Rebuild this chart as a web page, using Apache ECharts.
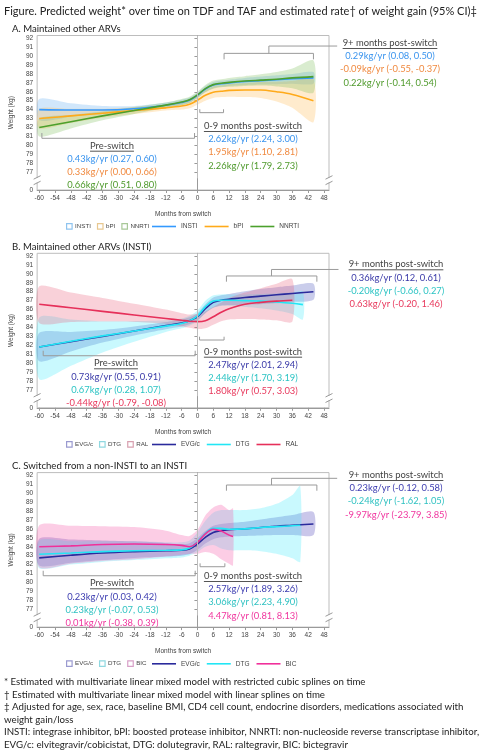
<!DOCTYPE html>
<html><head><meta charset="utf-8">
<script src="https://cdn.jsdelivr.net/npm/echarts@6/dist/echarts.min.js"></script>
<style>html,body{margin:0;padding:0;background:#fff}#c{width:482px;height:754px}</style>
</head><body><div id="c"></div>
<script>
// ---------- tick labels ----------
const xTicks = [-60,-54,-48,-42,-36,-30,-24,-18,-12,-6,0,6,12,18,24,30,36,42,48];
const yTicks = [75,77,78,79,80,81,82,83,84,85,86,87,88,89,90,91,92]; // 75 is shown as "0" (broken axis)

// ---------- Panel A: Maintained other ARVs ----------
const monthsA = [-60,-48,-36,-24,-12,-6,-3,0,3,6,9,12,18,24,30,36,44];
const A_INSTI    = [84.0,83.95,83.95,84.1,84.5,84.8,85.05,85.6,86.3,86.75,86.9,87.0,87.15,87.25,87.35,87.45,87.55];
const A_INSTI_lo = [82.8,83.2,83.5,83.8,84.2,84.5,84.75,85.3,85.95,86.4,86.55,86.65,86.75,86.8,86.85,86.9,86.9];
const A_INSTI_hi = [85.2,84.7,84.4,84.4,84.8,85.1,85.35,85.9,86.65,87.1,87.25,87.35,87.55,87.7,87.85,88.0,88.2];
const A_bPI      = [83.0,83.3,83.6,83.9,84.2,84.4,84.6,85.05,85.6,85.95,86.05,86.15,86.2,86.2,86.0,85.7,85.0];
const A_bPI_lo   = [81.9,82.5,83.1,83.5,83.9,84.0,84.15,84.55,85.0,85.3,85.4,85.45,85.4,85.3,84.9,84.2,82.6];
const A_bPI_hi   = [84.1,84.1,84.1,84.3,84.5,84.8,85.05,85.55,86.2,86.6,86.7,86.85,86.95,87.1,87.1,87.2,87.4];
const A_NNRTI    = [82.0,82.65,83.3,83.9,84.5,84.85,85.1,85.65,86.35,86.8,86.95,87.05,87.2,87.3,87.4,87.55,87.7];
const A_NNRTI_lo = [81.0,81.9,82.8,83.5,84.2,84.5,84.75,85.3,85.95,86.35,86.5,86.55,86.65,86.7,86.6,86.4,85.9];
const A_NNRTI_hi = [83.0,83.4,83.8,84.3,84.8,85.2,85.45,86.0,86.75,87.25,87.4,87.55,87.75,87.95,88.2,88.6,89.5];

// ---------- Panel B: Maintained other ARVs (INSTI) ----------
const monthsB_EVG = [-60,-48,-36,-24,-12,-6,-3,0,3,6,9,12,18,24,30,36,44];
const B_EVG    = [81.8,82.4,83.0,83.6,84.2,84.5,84.75,85.2,86.1,86.8,87.05,87.15,87.35,87.5,87.65,87.8,88.0];
const B_EVG_lo = [80.2,81.3,82.3,83.1,83.8,84.1,84.35,84.8,85.6,86.2,86.45,86.5,86.55,86.6,86.7,86.85,87.1];
const B_EVG_hi = [83.4,83.5,83.7,84.1,84.6,84.9,85.15,85.6,86.6,87.35,87.6,87.75,88.05,88.3,88.5,88.7,88.9];
const monthsB_DTG = [-60,-48,-36,-24,-12,-6,-3,0,3,6,9,12,18,24,30,36,40];
const B_DTG    = [81.8,82.45,83.05,83.6,84.15,84.45,84.75,85.3,86.3,86.95,87.05,87.05,87.0,86.95,86.85,86.7,86.55];
const B_DTG_lo = [78.2,79.7,81.2,82.4,83.5,83.9,84.2,84.7,85.6,86.2,86.4,86.4,86.3,86.15,85.9,85.5,84.9];
const B_DTG_hi = [85.1,84.9,84.7,84.7,84.8,85.0,85.3,85.9,87.0,87.6,87.7,87.7,87.7,87.75,87.8,87.9,88.0];
const monthsB_RAL = [-60,-48,-36,-24,-12,-6,-3,0,3,6,9,12,18,24,30,36];
const B_RAL    = [86.6,86.2,85.8,85.4,85.0,84.8,84.7,84.65,84.75,85.2,85.7,86.1,86.6,86.8,86.95,87.05];
const B_RAL_lo = [84.5,84.6,84.65,84.6,84.4,84.1,83.95,83.8,83.9,84.3,84.7,84.9,84.95,84.9,84.8,84.65];
const B_RAL_hi = [88.6,87.9,87.3,86.65,86.0,85.6,85.45,85.5,85.8,86.3,86.8,87.3,87.9,88.4,88.9,89.4];

// ---------- Panel C: Switched from a non-INSTI to an INSTI ----------
const monthsC_EVG = [-60,-48,-36,-24,-12,-6,-3,0,3,6,9,12,18,24,30,36,44];
const C_EVG    = [82.75,83.05,83.3,83.45,83.55,83.6,83.75,84.3,85.05,85.6,85.8,85.9,86.0,86.15,86.3,86.4,86.55];
const C_EVG_lo = [81.9,82.2,82.5,82.75,82.9,83.0,83.15,83.65,84.35,84.85,85.05,85.15,85.2,85.25,85.3,85.3,85.3];
const C_EVG_hi = [84.9,84.8,84.7,84.6,84.4,84.3,84.4,84.95,85.75,86.35,86.55,86.65,86.8,87.05,87.3,87.55,87.9];
const monthsC_DTG = [-60,-48,-36,-24,-12,-6,-3,0,3,6,9,12,18,24,30,36,39];
const C_DTG    = [83.15,83.3,83.45,83.55,83.6,83.65,83.85,84.55,85.5,86.05,86.05,85.95,86.0,86.15,86.25,86.35,86.4];
const C_DTG_lo = [81.6,82.0,82.3,82.5,82.7,82.8,83.0,83.4,84.0,84.2,83.8,83.6,83.6,83.5,83.2,82.7,82.3];
const C_DTG_hi = [84.7,84.6,84.6,84.6,84.5,84.5,84.7,85.6,86.9,87.8,88.1,88.1,88.1,88.3,88.8,89.8,90.8];
const monthsC_BIC = [-60,-48,-36,-24,-12,-6,-3,0,3,6,9,12,13.5];
const C_BIC    = [84.0,84.1,84.25,84.3,84.25,84.15,84.0,84.5,85.45,85.95,85.75,85.3,85.15];
const C_BIC_lo = [81.7,82.1,82.4,82.6,82.9,83.1,83.2,83.2,83.4,83.2,82.6,82.1,81.9];
const C_BIC_hi = [86.4,86.35,86.3,86.2,85.8,85.3,85.2,85.9,87.5,88.4,88.7,88.1,88.3];

// ---------- text ----------
const figTitle = 'Figure. Predicted weight* over time on TDF and TAF and estimated rate\u2020 of weight gain (95% CI)\u2021';
const panelTitles = ['A. Maintained other ARVs','B. Maintained other ARVs (INSTI)','C. Switched from a non-INSTI to an INSTI'];
const postLate = [
  ['0.29kg/yr (0.08, 0.50)','-0.09kg/yr (-0.55, -0.37)','0.22kg/yr (-0.14, 0.54)'],
  ['0.36kg/yr (0.12, 0.61)','-0.20kg/yr (-0.66, 0.27)','0.63kg/yr (-0.20, 1.46)'],
  ['0.23kg/yr (-0.12, 0.58)','-0.24kg/yr (-1.62, 1.05)','-9.97kg/yr (-23.79, 3.85)']];
const postEarly = [
  ['2.62kg/yr (2.24, 3.00)','1.95kg/yr (1.10, 2.81)','2.26kg/yr (1.79, 2.73)'],
  ['2.47kg/yr (2.01, 2.94)','2.44kg/yr (1.70, 3.19)','1.80kg/yr (0.57, 3.03)'],
  ['2.57kg/yr (1.89, 3.26)','3.06kg/yr (2.23, 4.90)','4.47kg/yr (0.81, 8.13)']];
const preSwitch = [
  ['0.43kg/yr (0.27, 0.60)','0.33kg/yr (0.00, 0.66)','0.66kg/yr (0.51, 0.80)'],
  ['0.73kg/yr (0.55, 0.91)','0.67kg/yr (0.28, 1.07)','-0.44kg/yr (-0.79, -0.08)'],
  ['0.23kg/yr (0.03, 0.42)','0.23kg/yr (-0.07, 0.53)','0.01kg/yr (-0.38, 0.39)']];
const footnotes = [
  '* Estimated with multivariate linear mixed model with restricted cubic splines on time',
  '\u2020 Estimated with multivariate linear mixed model with linear splines on time',
  '\u2021 Adjusted for age, sex, race, baseline BMI, CD4 cell count, endocrine disorders, medications associated with',
  'weight gain/loss',
  'INSTI: integrase inhibitor, bPI: boosted protease inhibitor, NNRTI: non-nucleoside reverse transcriptase inhibitor,',
  'EVG/c: elvitegravir/cobicistat, DTG: dolutegravir, RAL: raltegravir, BIC: bictegravir'];

// ---------- panel definitions ----------
const panels = [
  {top:35.5, groups:[
    {name:'INSTI', months:monthsA, v:A_INSTI, lo:A_INSTI_lo, hi:A_INSTI_hi, line:'#3399ff', fill:'rgba(90,170,240,0.28)', text:'#3a94ee', icon:'#8fc4ef'},
    {name:'bPI', months:monthsA, v:A_bPI, lo:A_bPI_lo, hi:A_bPI_hi, line:'#ffaa1a', fill:'rgba(255,190,90,0.30)', text:'#f08a40', icon:'#e8c890'},
    {name:'NNRTI', months:monthsA, v:A_NNRTI, lo:A_NNRTI_lo, hi:A_NNRTI_hi, line:'#4ca02c', fill:'rgba(110,180,70,0.26)', text:'#4f9a2c', icon:'#a8c898'}],
   ann:{lateX:390, lateY:43, earlyY:126, preX:112, preY:145.7},
   br:{late:[10.1,44.0,90.3,89.63,27.1,91.12,53], early:[0.9,9.9,84.04,83.66], pre:[-59.0,-1.1,81.38,80.79]},
   legendY:226},
  {top:253.3, groups:[
    {name:'EVG/c', months:monthsB_EVG, v:B_EVG, lo:B_EVG_lo, hi:B_EVG_hi, line:'#2a2a9c', fill:'rgba(80,90,190,0.30)', text:'#3a3aa8', icon:'#9a9ad0'},
    {name:'DTG', months:monthsB_DTG, v:B_DTG, lo:B_DTG_lo, hi:B_DTG_hi, line:'#22e6f5', fill:'rgba(60,235,250,0.28)', text:'#2cc4c4', icon:'#90d8e0'},
    {name:'RAL', months:monthsB_RAL, v:B_RAL, lo:B_RAL_lo, hi:B_RAL_hi, line:'#e6305a', fill:'rgba(235,90,120,0.28)', text:'#e8385c', icon:'#d8a0b0'}],
   ann:{lateX:396, lateY:264.3, earlyY:351.7, preX:116, preY:363.3},
   br:{late:[11,45.3,89.76,89.12,28.1,90.49,53.5], early:[0.8,10.1,82.96,82.59], pre:[-58.5,-0.85,81.39,80.83]},
   legendY:444},
  {top:472.6, groups:[
    {name:'EVG/c', months:monthsC_EVG, v:C_EVG, lo:C_EVG_lo, hi:C_EVG_hi, line:'#2a2a9c', fill:'rgba(90,80,190,0.32)', text:'#3c3cb0', icon:'#9a9ad0'},
    {name:'DTG', months:monthsC_DTG, v:C_DTG, lo:C_DTG_lo, hi:C_DTG_hi, line:'#22e6f5', fill:'rgba(60,235,250,0.28)', text:'#30c2c2', icon:'#90d8e0'},
    {name:'BIC', months:monthsC_BIC, v:C_BIC, lo:C_BIC_lo, hi:C_BIC_hi, line:'#f0309a', fill:'rgba(245,90,170,0.30)', text:'#f0359e', icon:'#d8a0c8'}],
   ann:{lateX:396, lateY:475, earlyY:576, preX:112, preY:583.3},
   br:{late:[11,45.3,90.91,90.27,28.1,91.66,53], early:[1.0,10.4,82.14,81.76], pre:[-58.5,-0.85,81.31,80.75]},
   legendY:663.3}
];

const GL = 33, GW = 296, GH = 154.5, XMIN = -60.8, XMAX = 49.9, YMIN = 75, YMAX = 92.3;
const axisFont = 'Liberation Sans';
const txtFont = 'Lato';

const chart = echarts.init(document.getElementById('c'), null, {renderer:'canvas', width:482, height:754});

const grids = [], xAxes = [], yAxes = [], series = [], legends = [];
panels.forEach((p, i) => {
  grids.push({left:GL, top:p.top, width:GW, height:GH, show:true, borderColor:'#bdbdbd', borderWidth:1, containLabel:false});
  xAxes.push({type:'value', gridIndex:i, min:XMIN, max:XMAX,
    name:'Months from switch', nameLocation:'middle', nameGap:21,
    nameTextStyle:{fontSize:6.5, color:'#444', fontFamily:axisFont},
    axisLine:{lineStyle:{color:'#9a9a9a'}},
    axisTick:{show:true, length:3, customValues:xTicks, lineStyle:{color:'#9a9a9a'}},
    axisLabel:{customValues:xTicks, fontSize:6.5, color:'#444', fontFamily:axisFont, margin:5},
    splitLine:{show:false}});
  yAxes.push({type:'value', gridIndex:i, min:YMIN, max:YMAX,
    name:'Weight (kg)', nameLocation:'middle', nameGap:19,
    nameTextStyle:{fontSize:6.5, color:'#444', fontFamily:axisFont},
    axisLine:{show:true, lineStyle:{color:'#9a9a9a'}},
    axisTick:{show:true, length:3, customValues:yTicks, lineStyle:{color:'#9a9a9a'}},
    axisLabel:{customValues:yTicks, fontSize:6.5, color:'#444', fontFamily:axisFont, margin:4,
      formatter: v => (v === 75 ? '0' : String(v))},
    splitLine:{show:false}});
  // bands (custom polygons through the axis scales)
  p.groups.forEach(g => {
    series.push({type:'custom', name:g.name + ' ', xAxisIndex:i, yAxisIndex:i, silent:true, z:1,
      data: g.months.map((m, k) => [m, g.lo[k], g.hi[k]]),
      encode:{x:0, y:[1,2]},
      renderItem: (params, api) => {
        if (params.dataIndex !== 0) return null;
        const up = g.months.map((m, k) => api.coord([m, g.hi[k]]));
        const dn = g.months.map((m, k) => api.coord([m, g.lo[k]])).reverse();
        return {type:'polygon', shape:{points: up.concat(dn), smooth:0.25}, style:{fill:g.fill}};
      }});
  });
  // lines
  p.groups.forEach((g, k) => {
    const s = {type:'line', name:g.name, xAxisIndex:i, yAxisIndex:i, z:3, smooth:0.35,
      symbol:'none', showSymbol:false, lineStyle:{color:g.line, width:1.6}, itemStyle:{color:g.line},
      emphasis:{disabled:true}, silent:true,
      data: g.months.map((m, j) => [m, g.v[j]])};
    if (k === 0) {
      s.markLine = {silent:true, symbol:'none', label:{show:false}, animation:false,
        lineStyle:{color:'#bdbdbd', width:1, type:'solid'},
        data:[[{coord:[0, YMAX]}, {coord:[0, 76.3]}]]};
    }
    series.push(s);
  });
  const ly = p.legendY;
  legends.push({top:ly - 3, left:66, padding:0, itemWidth:5.5, itemHeight:5.5, itemGap:6, selectedMode:false,
    textStyle:{fontSize:6.2, color:'#444', fontFamily:axisFont, padding:[0,0,0,-2]},
    formatter: n => n.trim(),
    data: p.groups.map(g => ({name:g.name + ' ', icon:'rect', itemStyle:{color:'rgba(255,255,255,0)', borderColor:g.icon, borderWidth:1.2}}))});
  legends.push({top:ly - 3, left:152, padding:0, itemWidth:24, itemHeight:6, itemGap:7, selectedMode:false,
    textStyle:{fontSize:6.5, color:'#444', fontFamily:axisFont},
    data: p.groups.map(g => ({name:g.name, icon:'path://M0,0L24,0L24,1.6L0,1.6Z', itemStyle:{color:g.line}}))});
});

chart.setOption({animation:false, grid:grids, xAxis:xAxes, yAxis:yAxes, series:series, legend:legends});

// ---------- annotations (titles, brackets, rate texts) ----------
const measure = (() => { const c = document.createElement('canvas').getContext('2d'); return (t, f) => { c.font = f; return c.measureText(t).width; }; })();
const g = [];
const txt = (t, x, y, font, fill, align) => g.push({type:'text', silent:true, z:10, x:x, y:y,
  style:{text:t, font:font, fill:fill, textAlign:align || 'left', textVerticalAlign:'middle'}});
const line = (pts, color) => g.push({type:'polyline', silent:true, z:9, shape:{points:pts}, style:{stroke:color || '#9a9a9a', lineWidth:1, fill:null}});

const titleFont = '11px ' + txtFont;
txt(figTitle, 4, 11.5, titleFont, '#222');
const annFont = '9.4px ' + txtFont;
const headFont = '9.4px ' + txtFont;
const footFont = '9.7px ' + txtFont;

function header(t, cx, y) {
  txt(t, cx, y, headFont, '#444', 'center');
  const w = measure(t, headFont);
  line([[cx - w/2, y + 5.5], [cx + w/2, y + 5.5]], '#555');
}

panels.forEach((p, i) => {
  const P = (m, w) => chart.convertToPixel({gridIndex:i}, [m, w]);
  txt(panelTitles[i], 12, p.top - 6.5, '9.6px ' + txtFont, '#222');
  const a = p.ann;
  header('9+ months post-switch', a.lateX, a.lateY);
  postLate[i].forEach((t, k) => txt(t, a.lateX, a.lateY + 13.2 * (k + 1), annFont, p.groups[k].text, 'center'));
  header('0-9 months post-switch', 253, a.earlyY);
  postEarly[i].forEach((t, k) => txt(t, 253, a.earlyY + 13.2 * (k + 1), annFont, p.groups[k].text, 'center'));
  header('Pre-switch', a.preX, a.preY);
  preSwitch[i].forEach((t, k) => txt(t, a.preX, a.preY + 13.2 * (k + 1), annFont, p.groups[k].text, 'center'));
  // brackets
  const L = p.br.late;
  const l0 = P(L[0], L[2]), l1 = P(L[1], L[2]), t0 = P(L[0], L[3]), t1 = P(L[1], L[3]);
  line([t0, l0, l1, t1]);
  const s0 = P(L[4], L[2]), s1 = P(L[4], L[5]), s2 = P(L[6], L[5]);
  line([s0, s1, s2]);
  const E = p.br.early;
  line([P(E[0], E[2]), P(E[0], E[3]), P(E[1], E[3]), P(E[1], E[2])]);
  const R = p.br.pre;
  line([P(R[0], R[2]), P(R[0], R[3]), P(R[1], R[3]), P(R[1], R[2])]);
  // axis break marks on left axis and right border
  [XMIN, XMAX].forEach(m => {
    const [bx, by] = P(m, 76.1);
    g.push({type:'rect', silent:true, z:9, shape:{x:bx - 4, y:by - 2.2, width:8, height:4.4}, style:{fill:'#fff'}});
    line([[bx - 3.5, by - 1], [bx + 3.5, by - 4.5]], '#9a9a9a');
    line([[bx - 3.5, by + 4.5], [bx + 3.5, by + 1]], '#9a9a9a');
  });
});
const footY = [682, 694.5, 707, 719.5, 732, 744.5];
footnotes.forEach((t, k) => txt(t, 4, footY[k], footFont, '#222'));

chart.setOption({graphic:{elements:g}});
</script></body></html>
